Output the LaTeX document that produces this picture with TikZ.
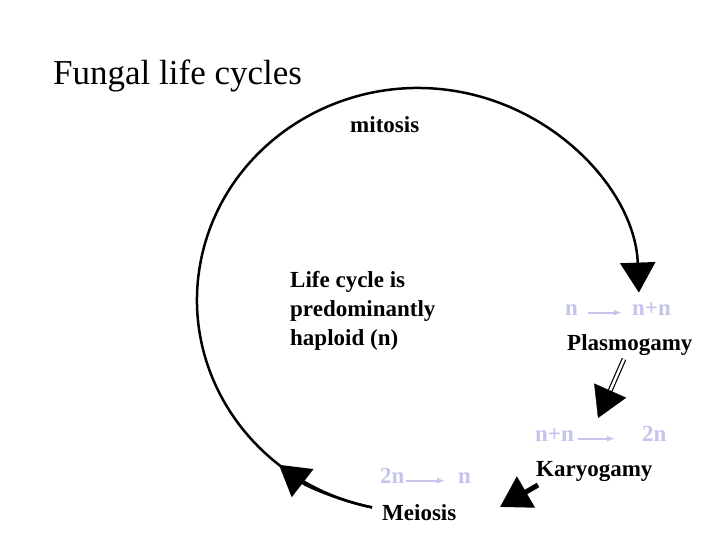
\documentclass[tikz,border=0pt]{standalone}
\usepackage{fontspec}
\setmainfont{Liberation Serif}
\usetikzlibrary{arrows.meta}
\definecolor{lavender}{RGB}{196,196,236}

\begin{document}
\begin{tikzpicture}[
    x=1pt, y=-1pt,
    heading/.style={anchor=base west, inner sep=0pt, font=\fontsize{35}{42}\selectfont},
    stage/.style={anchor=base west, inner sep=0pt, font=\fontsize{23}{29}\selectfont\bfseries},
    ploidy/.style={stage, text=lavender},
    ploidyarrow/.style={-{Latex[length=8pt, width=6pt]}, lavender, line width=1.6pt},
    bigtip/.style={-{Triangle[length=30pt, width=35pt]}},
    cyclepath/.style={line width=2.5pt},
]
\useasboundingbox (0,0) rectangle (720,540);

% Labels
\node[heading] (title) at (53,85) {Fungal life cycles};
\node[stage] (mitosis) at (350,133) {mitosis};
\node[stage, align=left] (haploid) at (290,345) {Life cycle is\\predominantly\\haploid (n)};
\node[ploidy] (pn1) at (565,315) {n};
\node[ploidy] (pnn1) at (632,315) {n+n};
\node[stage] (plasmo) at (567,350) {Plasmogamy};
\node[ploidy] (knn) at (535,441) {n+n};
\node[ploidy] (k2n) at (642,441) {2n};
\node[stage] (karyo) at (536,476) {Karyogamy};
\node[ploidy] (m2n) at (380,483) {2n};
\node[ploidy] (mn) at (458,483) {n};
\node[stage] (meiosis) at (382,520) {Meiosis};

% Ploidy changes
\draw[ploidyarrow, shorten <=10pt, shorten >=10pt] (pn1.mid east) -- (pnn1.mid west);
\draw[ploidyarrow, shorten <=4pt, shorten >=27pt] (knn.mid east) -- (k2n.mid west);
\draw[ploidyarrow, shorten <=1pt, shorten >=13pt] (m2n.mid east) -- (mn.mid west);

% Main cycle
\coordinate (hub) at (418,300);
\draw[cyclepath, bigtip] ([shift={(102:221 and 212)}]hub) arc[start angle=102, end angle=358, x radius=221, y radius=212];
\draw[cyclepath, bigtip] ([shift={(102:221 and 212)}]hub) arc[start angle=102, end angle=129, x radius=221, y radius=212];

% Plasmogamy to karyogamy
\coordinate (ptail) at (624,359);
\coordinate (pbase) at (610,391);
\coordinate (ptip) at (598,418);
\draw[double, double distance=2.5pt, line width=1.2pt] (ptail) -- (pbase);
\draw[bigtip] (pbase) -- (ptip);

% Karyogamy to meiosis
\coordinate (ktail) at (538,485);
\coordinate (ktip) at (500,507);
\draw[bigtip, line width=5pt] (ktail) -- (ktip);

\end{tikzpicture}
\end{document}
